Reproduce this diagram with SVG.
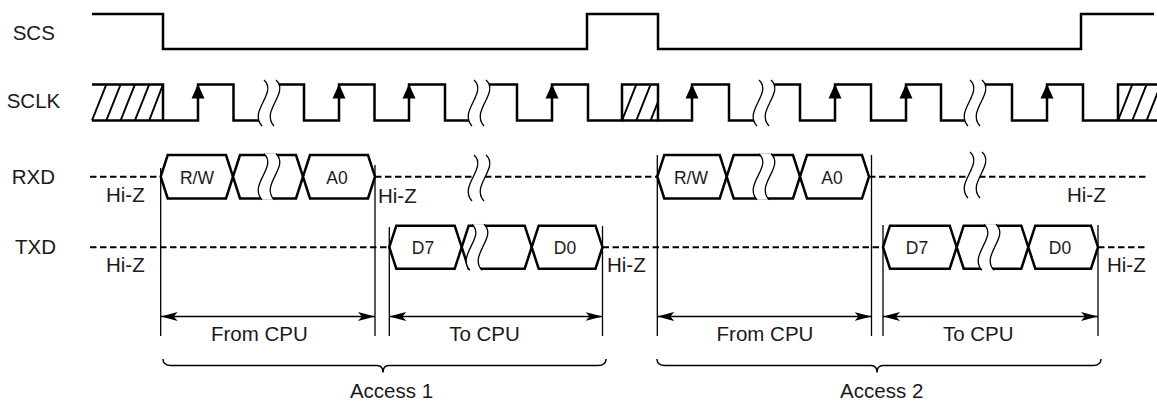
<svg xmlns="http://www.w3.org/2000/svg" xmlns:xlink="http://www.w3.org/1999/xlink" width="1157" height="403" viewBox="0 0 1157 403">
<style>
text{font-family:"Liberation Sans",Arial,sans-serif;fill:#1a1a1a}
.lbl{font-size:20.5px}
.bx{font-size:17.5px;text-anchor:middle}
.mid{text-anchor:middle}
.sig{fill:none;stroke:#000;stroke-width:2.5;stroke-linejoin:miter}
.hat{fill:none;stroke:#000;stroke-width:2}
.box{fill:#fff;stroke:#000;stroke-width:2.5;stroke-linejoin:miter}
.dash{fill:none;stroke:#000;stroke-width:2;stroke-dasharray:6.5 3.5}
.thin{fill:none;stroke:#000;stroke-width:1.3}
.brc{fill:none;stroke:#000;stroke-width:1.5}
.arr{fill:#000}
</style>
<defs>
<g id="brk">
<path d="M2,-23 C16,-10 -14,8 0,23 L12,23 C-2,8 28,-10 14,-23 Z" fill="#fff" stroke="none"/>
<path d="M2,-23 C16,-10 -14,8 0,23" fill="none" stroke="#000" stroke-width="1.3"/>
<path d="M14,-23 C28,-10 -2,8 12,23" fill="none" stroke="#000" stroke-width="1.3"/>
</g>
<path id="up" d="M0,84 L6.5,98.5 L-6.5,98.5 Z" fill="#000"/>
<marker id="ah" viewBox="0 0 17 9" refX="17" refY="4.5" markerWidth="17" markerHeight="9" markerUnits="userSpaceOnUse" orient="auto-start-reverse">
<path d="M0,0 L17,4.5 L0,9 L4,4.5 Z" fill="#000"/>
</marker>
</defs>

<g id="labels">
<text class="lbl" x="12.7" y="40">SCS</text>
<text class="lbl" x="6.7" y="108.3">SCLK</text>
<text class="lbl" x="11.7" y="184">RXD</text>
<text class="lbl" x="15" y="254">TXD</text>
</g>

<g id="scs">
<path class="sig" d="M92,14 H163 V49 H587 V14 H658 V49 H1081 V14 H1154"/>
</g>

<g id="sclk">
<path class="sig" d="M92,120.5 H198 V84.5 H233.5 V120.5 H260"/>
<path class="sig" d="M92,84.5 H163 V120.5"/>
<path class="hat" d="M92,120.5 L106.3,84.5 M106.3,120.5 L120.6,84.5 M120.6,120.5 L134.9,84.5 M134.9,120.5 L149.2,84.5 M149.2,120.5 L163,84.5"/>
<path class="sig" d="M277,84.5 H304 V120.5 H339 V84.5 H374.5 V120.5 H409 V84.5 H445 V120.5 H470"/>
<path class="sig" d="M488,84.5 H517 V120.5 H552 V84.5 H588 V120.5 H622 V84.5 H658 V120.5 H692 V84.5 H729 V120.5 H755"/>
<path class="sig" d="M622,120.5 H658"/>
<path class="hat" d="M622,120.5 L636.3,84.5 M636.3,120.5 L650.6,84.5 M650.6,120.5 L658,101.9"/>
<path class="sig" d="M773,84.5 H800 V120.5 H835 V84.5 H871 V120.5 H906 V84.5 H941 V120.5 H966"/>
<path class="sig" d="M985,84.5 H1012 V120.5 H1047 V84.5 H1083 V120.5 H1118 V84.5 H1157 M1118,120.5 H1157"/>
<path class="hat" d="M1118,120.5 L1132.3,84.5 M1132.3,120.5 L1146.6,84.5 M1146.6,120.5 L1160.9,84.5"/>
<use xlink:href="#brk" href="#brk" transform="translate(262,103)"/>
<use xlink:href="#brk" href="#brk" transform="translate(472,103)"/>
<use xlink:href="#brk" href="#brk" transform="translate(757,103)"/>
<use xlink:href="#brk" href="#brk" transform="translate(968,103)"/>
<use href="#up" xlink:href="#up" x="198"/>
<use href="#up" xlink:href="#up" x="339"/>
<use href="#up" xlink:href="#up" x="409"/>
<use href="#up" xlink:href="#up" x="552"/>
<use href="#up" xlink:href="#up" x="692"/>
<use href="#up" xlink:href="#up" x="835"/>
<use href="#up" xlink:href="#up" x="906"/>
<use href="#up" xlink:href="#up" x="1047"/>
</g>

<g id="rxd">
<path class="dash" d="M90,176.7 H160.7 M375,176.7 H657.3 M869,176.7 H1148"/>
<use xlink:href="#brk" href="#brk" transform="translate(472,178)"/>
<use xlink:href="#brk" href="#brk" transform="translate(968,175)"/>
<polygon class="box" points="160.7,176.7 167.7,155 226,155 233,176.7 226,198.4 167.7,198.4"/>
<polygon class="box" points="233,176.7 240,155 296,155 303,176.7 296,198.4 240,198.4"/>
<polygon class="box" points="303,176.7 310,155 368,155 375,176.7 368,198.4 310,198.4"/>
<use xlink:href="#brk" href="#brk" transform="translate(262,176.7)"/>
<polygon class="box" points="657.3,176.7 664.3,155 719.7,155 726.7,176.7 719.7,198.4 664.3,198.4"/>
<polygon class="box" points="726.7,176.7 733.7,155 793,155 800,176.7 793,198.4 733.7,198.4"/>
<polygon class="box" points="800,176.7 807,155 862,155 869,176.7 862,198.4 807,198.4"/>
<use xlink:href="#brk" href="#brk" transform="translate(757,176.7)"/>
<text class="bx" x="197" y="183.5">R/W</text>
<text class="bx" x="337" y="183.5">A0</text>
<text class="bx" x="691" y="183.5">R/W</text>
<text class="bx" x="832" y="183.5">A0</text>
<text class="lbl" x="106" y="202">Hi-Z</text>
<text class="lbl" x="378" y="202.5">Hi-Z</text>
<text class="lbl" x="1067" y="202">Hi-Z</text>
</g>

<g id="txd">
<path class="dash" d="M90,247.2 H389.3 M602.5,247.2 H883 M1098,247.2 H1148"/>
<polygon class="box" points="389.3,247.2 396.3,225.7 454.7,225.7 461.7,247.2 454.7,268.7 396.3,268.7"/>
<polygon class="box" points="461.7,247.2 468.7,225.7 524.7,225.7 531.7,247.2 524.7,268.7 468.7,268.7"/>
<polygon class="box" points="531.7,247.2 538.7,225.7 595.5,225.7 602.5,247.2 595.5,268.7 538.7,268.7"/>
<use xlink:href="#brk" href="#brk" transform="translate(470,247.2)"/>
<polygon class="box" points="883,247.2 890,225.7 949.7,225.7 956.7,247.2 949.7,268.7 890,268.7"/>
<polygon class="box" points="956.7,247.2 963.7,225.7 1021.3,225.7 1028.3,247.2 1021.3,268.7 963.7,268.7"/>
<polygon class="box" points="1028.3,247.2 1035.3,225.7 1091,225.7 1098,247.2 1091,268.7 1035.3,268.7"/>
<use xlink:href="#brk" href="#brk" transform="translate(982,247.2)"/>
<text class="bx" x="423" y="253.5">D7</text>
<text class="bx" x="565" y="253.5">D0</text>
<text class="bx" x="917" y="253.5">D7</text>
<text class="bx" x="1060" y="253.5">D0</text>
<text class="lbl" x="106" y="272">Hi-Z</text>
<text class="lbl" x="607" y="272">Hi-Z</text>
<text class="lbl" x="1107" y="272">Hi-Z</text>
</g>

<g id="connectors">
<path class="thin" d="M160.7,168 V336 M375,165 V336 M389.3,227 V336 M602.5,226 V336 M657.3,155 V336 M871.5,155 V336 M883,225 V336 M1098,225 V336"/>
<path class="thin" d="M160.7,316.5 H375" marker-start="url(#ah)" marker-end="url(#ah)"/>
<path class="thin" d="M389.3,316.5 H602.5" marker-start="url(#ah)" marker-end="url(#ah)"/>
<path class="thin" d="M657.3,316.5 H871.5" marker-start="url(#ah)" marker-end="url(#ah)"/>
<path class="thin" d="M883,316.5 H1098" marker-start="url(#ah)" marker-end="url(#ah)"/>
<path class="brc" d="M163,359 Q163,365.5 171,365.5 H377 Q383,365.5 383,372.5 Q383,365.5 389,365.5 H598 Q606,365.5 606,359"/>
<path class="brc" d="M657,359 Q657,365.5 665,365.5 H871 Q877,365.5 877,372.5 Q877,365.5 883,365.5 H1093 Q1101,365.5 1101,359"/>
</g>

<g id="dimlabels">
<text class="lbl mid" x="259.3" y="341">From CPU</text>
<text class="lbl mid" x="484.5" y="341">To CPU</text>
<text class="lbl mid" x="765" y="341">From CPU</text>
<text class="lbl mid" x="978.3" y="341">To CPU</text>
<text class="lbl mid" x="391.5" y="398">Access 1</text>
<text class="lbl mid" x="881.7" y="398">Access 2</text>
</g>
</svg>
